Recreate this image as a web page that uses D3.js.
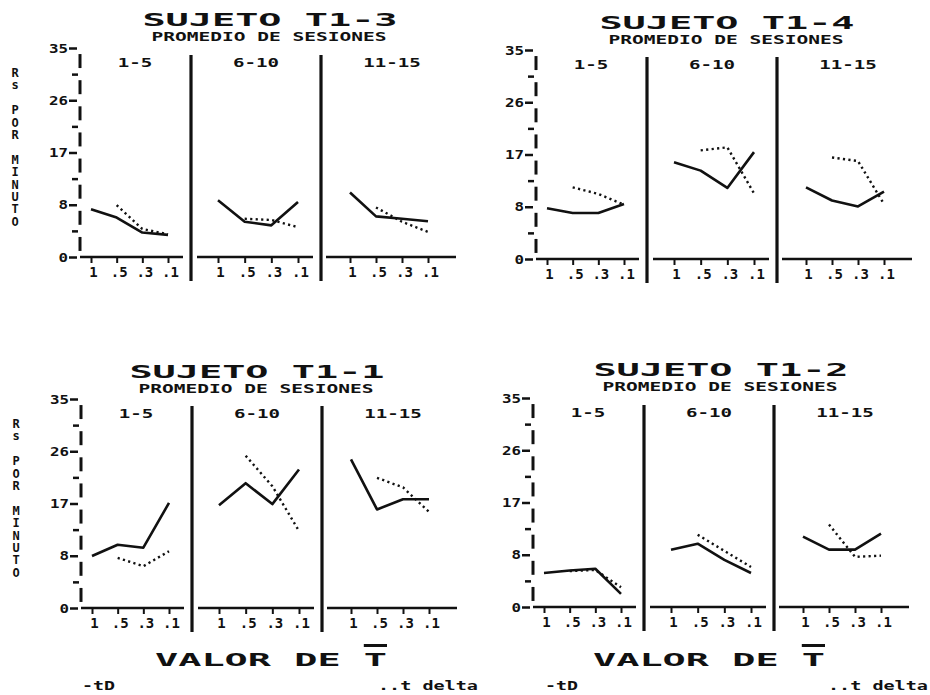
<!DOCTYPE html>
<html>
<head>
<meta charset="utf-8">
<script src="https://cdn.jsdelivr.net/npm/d3@7"></script>
<style>
body { margin: 0; background: #fff; }
svg text { font-family: "DejaVu Sans Mono", monospace; font-weight: bold; fill: #111; }
</style>
</head>
<body>
<script>
var width = 930, height = 695;

var subjects = ["SUJETO T1-3", "SUJETO T1-4", "SUJETO T1-1", "SUJETO T1-2"];
var blocks = ["1-5", "6-10", "11-15"];
var tValues = ["1", ".5", ".3", ".1"];
var deltaValues = [".5", ".3", ".1"];
var yTicks = [0, 8.75, 17.5, 26.25, 35];
var yTickLabels = ["0", "8", "17", "26", "35"];

// solid line (tD), one row per block of sessions
var tD_T13 = [[8.0, 6.6, 4.1, 3.7], [9.5, 5.9, 5.3, 9.2], [10.8, 6.8, 6.4, 6.0]];
var tD_T14 = [[8.5, 7.7, 7.7, 9.2], [16.2, 14.8, 11.9, 17.9], [12.0, 9.8, 8.8, 11.3]];
var tD_T11 = [[8.7, 10.6, 10.1, 17.6], [17.2, 20.9, 17.4, 23.2], [24.9, 16.5, 18.2, 18.2]];
var tD_T12 = [[5.7, 6.1, 6.4, 2.2], [9.6, 10.6, 7.9, 5.7], [11.8, 9.6, 9.6, 12.3]];

// dotted line (t delta), starts at .5
var tDelta_T13 = [[8.7, 4.7, 3.8], [6.4, 6.2, 5.0], [8.3, 5.9, 4.2]];
var tDelta_T14 = [[12.0, 10.9, 9.1], [18.2, 18.7, 11.0], [17.0, 16.4, 9.2]];
var tDelta_T11 = [[8.4, 7.0, 9.5], [25.5, 20.4, 12.9], [21.8, 20.2, 16.1]];
var tDelta_T12 = [[6.0, 6.2, 3.3], [12.1, 9.4, 6.7], [13.8, 8.4, 8.6]];

var solidSets = [tD_T13, tD_T14, tD_T11, tD_T12];
var dottedSets = [tDelta_T13, tDelta_T14, tDelta_T11, tDelta_T12];

// layout of one chart (top-left one), others are shifted copies
var axisX = 80, yBottom = 257, yTop = 48;
var sepX = [191, 321];
var baseExt = [[80, 183], [197, 313], [326, 456]];
var dataExt = [[91, 168], [218, 298], [350, 428]];
var blockX = [135, 256, 392];
var offsets = [
    {dx: 0, dy: 0, tx: 270, ty: 0, ylab: true},
    {dx: 456, dy: 2, tx: 727, ty: 3, ylab: false},
    {dx: 1, dy: 351, tx: 257, ty: 352, ylab: true},
    {dx: 453, dy: 350, tx: 721, ty: 350, ylab: false}
];

var svg = d3.select("body").append("svg")
    .attr("width", width).attr("height", height)
    .style("background", "#fff");

function stretch(sel, perChar) {
    sel.attr("textLength", function() { return this.textContent.length * perChar; })
        .attr("lengthAdjust", "spacingAndGlyphs");
}

var y = d3.scaleLinear().domain([0, 35]).range([yBottom, yTop]);
var line = d3.line();

subjects.forEach(function(name, k) {
    var o = offsets[k];
    var g = svg.append("g").attr("transform", "translate(" + o.dx + "," + o.dy + ")");

    // titles
    svg.append("text").attr("x", o.tx).attr("y", 26 + o.ty)
        .attr("text-anchor", "middle").style("font-size", "17px")
        .text(name).call(stretch, 23.2);
    svg.append("text").attr("x", o.tx - 1).attr("y", 41 + o.ty)
        .attr("text-anchor", "middle").style("font-size", "12px")
        .text("PROMEDIO DE SESIONES").call(stretch, 11.75);

    // y axis
    var yAxis = g.append("g").attr("transform", "translate(" + axisX + ",0)")
        .call(d3.axisLeft(y).tickValues(yTicks)
            .tickFormat(function(d, i) { return yTickLabels[i]; })
            .tickSize(11).tickPadding(1));
    yAxis.select(".domain").remove();
    yAxis.selectAll("line").attr("stroke", "#111").attr("stroke-width", 2.5).attr("x1", -3);
    yAxis.selectAll("text").style("font-size", "13px").attr("fill", "#111").call(stretch, 9.5);

    var mids = d3.pairs(yTicks).map(function(p) { return (p[0] + p[1]) / 2; });
    var minor = g.append("g").attr("transform", "translate(" + axisX + ",0)")
        .call(d3.axisLeft(y).tickValues(mids).tickSize(8).tickFormat(""));
    minor.select(".domain").remove();
    minor.selectAll("line").attr("stroke", "#111").attr("stroke-width", 2.5).attr("x1", -2);

    // dashed axis spine: one piece in each gap between ticks
    var all = yTicks.concat(mids).sort(d3.ascending);
    g.selectAll(".spine").data(d3.pairs(all)).enter().append("line")
        .attr("x1", axisX).attr("x2", axisX)
        .attr("y1", function(p) { return y((p[0] + p[1]) / 2) + 7; })
        .attr("y2", function(p) { return y((p[0] + p[1]) / 2) - 7; })
        .attr("stroke", "#111").attr("stroke-width", 3);

    if (o.ylab) {
        g.append("text").attr("x", 15).attr("y", 66)
            .style("font-size", "12px")
            .style("writing-mode", "vertical-rl")
            .style("text-orientation", "upright")
            .style("letter-spacing", "-1.6px")
            .text("Rs POR MINUTO");
    }

    // separators
    g.selectAll(".sep").data(sepX).enter().append("line")
        .attr("x1", function(d) { return d; }).attr("x2", function(d) { return d; })
        .attr("y1", 55).attr("y2", 281)
        .attr("stroke", "#111").attr("stroke-width", 3.2);

    blocks.forEach(function(b, j) {
        var x = d3.scalePoint().domain(tValues).range(dataExt[j]);

        g.append("text").attr("x", blockX[j]).attr("y", 67)
            .attr("text-anchor", "middle").style("font-size", "13px")
            .text(b).call(stretch, 11.5);

        g.append("line").attr("x1", baseExt[j][0]).attr("x2", baseExt[j][1])
            .attr("y1", yBottom).attr("y2", yBottom)
            .attr("stroke", "#111").attr("stroke-width", 2.5);

        var xAxis = g.append("g").attr("transform", "translate(0," + yBottom + ")")
            .call(d3.axisBottom(x).tickSize(6).tickPadding(4));
        xAxis.select(".domain").remove();
        xAxis.selectAll("line").attr("stroke", "#111").attr("stroke-width", 2);
        xAxis.selectAll("text").style("font-size", "14px").attr("fill", "#111").attr("dx", 2);

        var solid = solidSets[k][j].map(function(v, i) { return [x(tValues[i]), y(v)]; });
        var dotted = dottedSets[k][j].map(function(v, i) { return [x(deltaValues[i]), y(v)]; });

        g.append("path").attr("d", line(solid)).attr("fill", "none")
            .attr("stroke", "#111").attr("stroke-width", 2.6).attr("stroke-linejoin", "round");
        g.append("path").attr("d", line(dotted)).attr("fill", "none")
            .attr("stroke", "#111").attr("stroke-width", 2.4).attr("stroke-dasharray", "2.2,3.3");
    });
});

// bottom captions
var captionX = [155, 593];
var tdX = [82, 545];
var deltaX = [378, 828];
captionX.forEach(function(cx, i) {
    svg.append("text").attr("x", cx).attr("y", 666)
        .style("font-size", "17px").text("VALOR DE T").call(stretch, 23.2);
    var len = 10 * 23.2;
    svg.append("line").attr("x1", cx + 0.9 * len).attr("x2", cx + len)
        .attr("y1", 645.5).attr("y2", 645.5)
        .attr("stroke", "#111").attr("stroke-width", 3);
    svg.append("text").attr("x", tdX[i]).attr("y", 690)
        .style("font-size", "12px").text("-tD").call(stretch, 11);
    svg.append("text").attr("x", deltaX[i]).attr("y", 690)
        .style("font-size", "12px").text("..t delta").call(stretch, 11.1);
});
</script>
</body>
</html>
